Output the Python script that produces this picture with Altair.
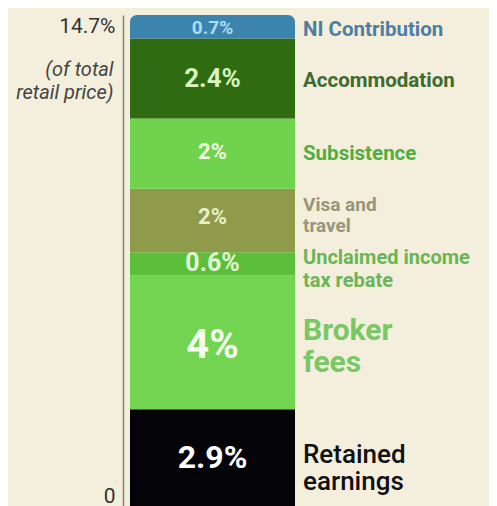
import altair as alt
import pandas as pd

# ---- data (bottom to top) ----
categories = ["Retained earnings", "Broker fees", "Unclaimed income tax rebate",
              "Visa and travel", "Subsistence", "Accommodation", "NI Contribution"]
values = [2.9, 4.0, 0.7, 1.9, 2.1, 2.4, 0.7]
value_labels = ["2.9%", "4%", "0.6%", "2%", "2%", "2.4%", "0.7%"]
side_labels = ["Retained\nearnings", "Broker\nfees", "Unclaimed income\ntax rebate",
               "Visa and\ntravel", "Subsistence", "Accommodation", "NI Contribution"]
axis_ticks = [0, 14.7]
total = 14.7

# ---- styles ----
bar_colors = ["#030308", "#72d450", "#5cbf3b", "#8f9b4b", "#6fd34e", "#2f6b10", "#3b84ad"]
inner_colors = ["#ffffff", "#f4fff0", "#e2f8d2", "#e8f0c8", "#eefce0", "#d8f5c0", "#a9dcf5"]
inner_sizes = [32, 40, 25, 22, 22, 26, 19]
inner_dy = [0, 4, -1, -3, -2, 1, 1]
side_colors = ["#111111", "#79c766", "#6bb558", "#96967a", "#52ad3f", "#3f6a30", "#4f7ea3"]
side_sizes = [26, 30, 20, 19, 20.5, 20.5, 20.5]
side_weights = [500, 700, 700, 700, 700, 700, 700]
side_lh = [27, 32, 23, 21, 21, 21, 21]
side_dy = [-3, -11, -6, -15, 0, 3, 3]

ends, starts, acc = [], [], 0.0
for v in values:
    starts.append(acc)
    acc += v
    ends.append(acc)

df = pd.DataFrame({
    "cat": categories, "start": starts, "end": ends,
    "mid": [(s + e) / 2 for s, e in zip(starts, ends)],
    "vlabel": value_labels, "slabel": side_labels,
    "bcol": bar_colors, "icol": inner_colors, "isz": inner_sizes, "idy": inner_dy,
    "scol": side_colors, "ssz": side_sizes, "sw": side_weights, "slh": side_lh, "sdy": side_dy,
})

yscale = alt.Scale(domain=[0, total], nice=False, zero=True)
yaxis = alt.Axis(
    values=axis_ticks, grid=False, ticks=False, domain=True,
    domainColor="#85857c", domainWidth=1.5,
    labelExpr="datum.value == 0 ? '0' : format(datum.value, '.1f') + '%'",
    labelFont="Roboto", labelFontSize=21, labelColor="#333333", labelPadding=8,
    labelBaseline={"condition": {"test": "datum.value == 0", "value": "bottom"}, "value": "top"},
    title=["(of total", "retail price)"], titleAngle=0, titleAlign="right",
    titleBaseline="top", titleX=-10, titleY=44, titleFont="Roboto",
    titleFontSize=20, titleFontStyle="italic", titleFontWeight="normal",
    titleColor="#444444", titleLineHeight=23,
)

base = alt.Chart(df)

bars = base.mark_bar(
    cornerRadiusTopLeft=alt.expr("datum.cat == 'NI Contribution' ? 7 : 0"),
    cornerRadiusTopRight=alt.expr("datum.cat == 'NI Contribution' ? 7 : 0"),
).encode(
    x=alt.value(7), x2=alt.value(172),
    y=alt.Y("start:Q", scale=yscale, axis=yaxis),
    y2="end:Q",
    color=alt.Color("bcol:N", scale=None),
)

inner = base.mark_text(
    font="Roboto", fontWeight="bold", align="center", baseline="middle",
    dy=alt.expr("datum.idy"),
).encode(
    x=alt.value(89.5),
    y=alt.Y("mid:Q", scale=yscale, axis=yaxis),
    text="vlabel:N",
    color=alt.Color("icol:N", scale=None),
    size=alt.Size("isz:Q", scale=None),
)

side = base.mark_text(
    font="Roboto", align="left", baseline="middle", lineBreak="\n",
    fontWeight=alt.expr("datum.sw"), lineHeight=alt.expr("datum.slh"),
    dy=alt.expr("datum.sdy"),
).encode(
    x=alt.value(180),
    y=alt.Y("mid:Q", scale=yscale, axis=yaxis),
    text="slabel:N",
    color=alt.Color("scol:N", scale=None),
    size=alt.Size("ssz:Q", scale=None),
)

chart = alt.layer(bars, inner, side).properties(
    width=366, height=491,
    autosize=alt.AutoSizeParams(type="none"),
    padding={"left": 115, "top": 7, "right": 0, "bottom": 0},
    background="#f3efdc",
).configure_view(stroke=None)

chart.save("out.html", embed_options={"renderer": "svg", "actions": False})
